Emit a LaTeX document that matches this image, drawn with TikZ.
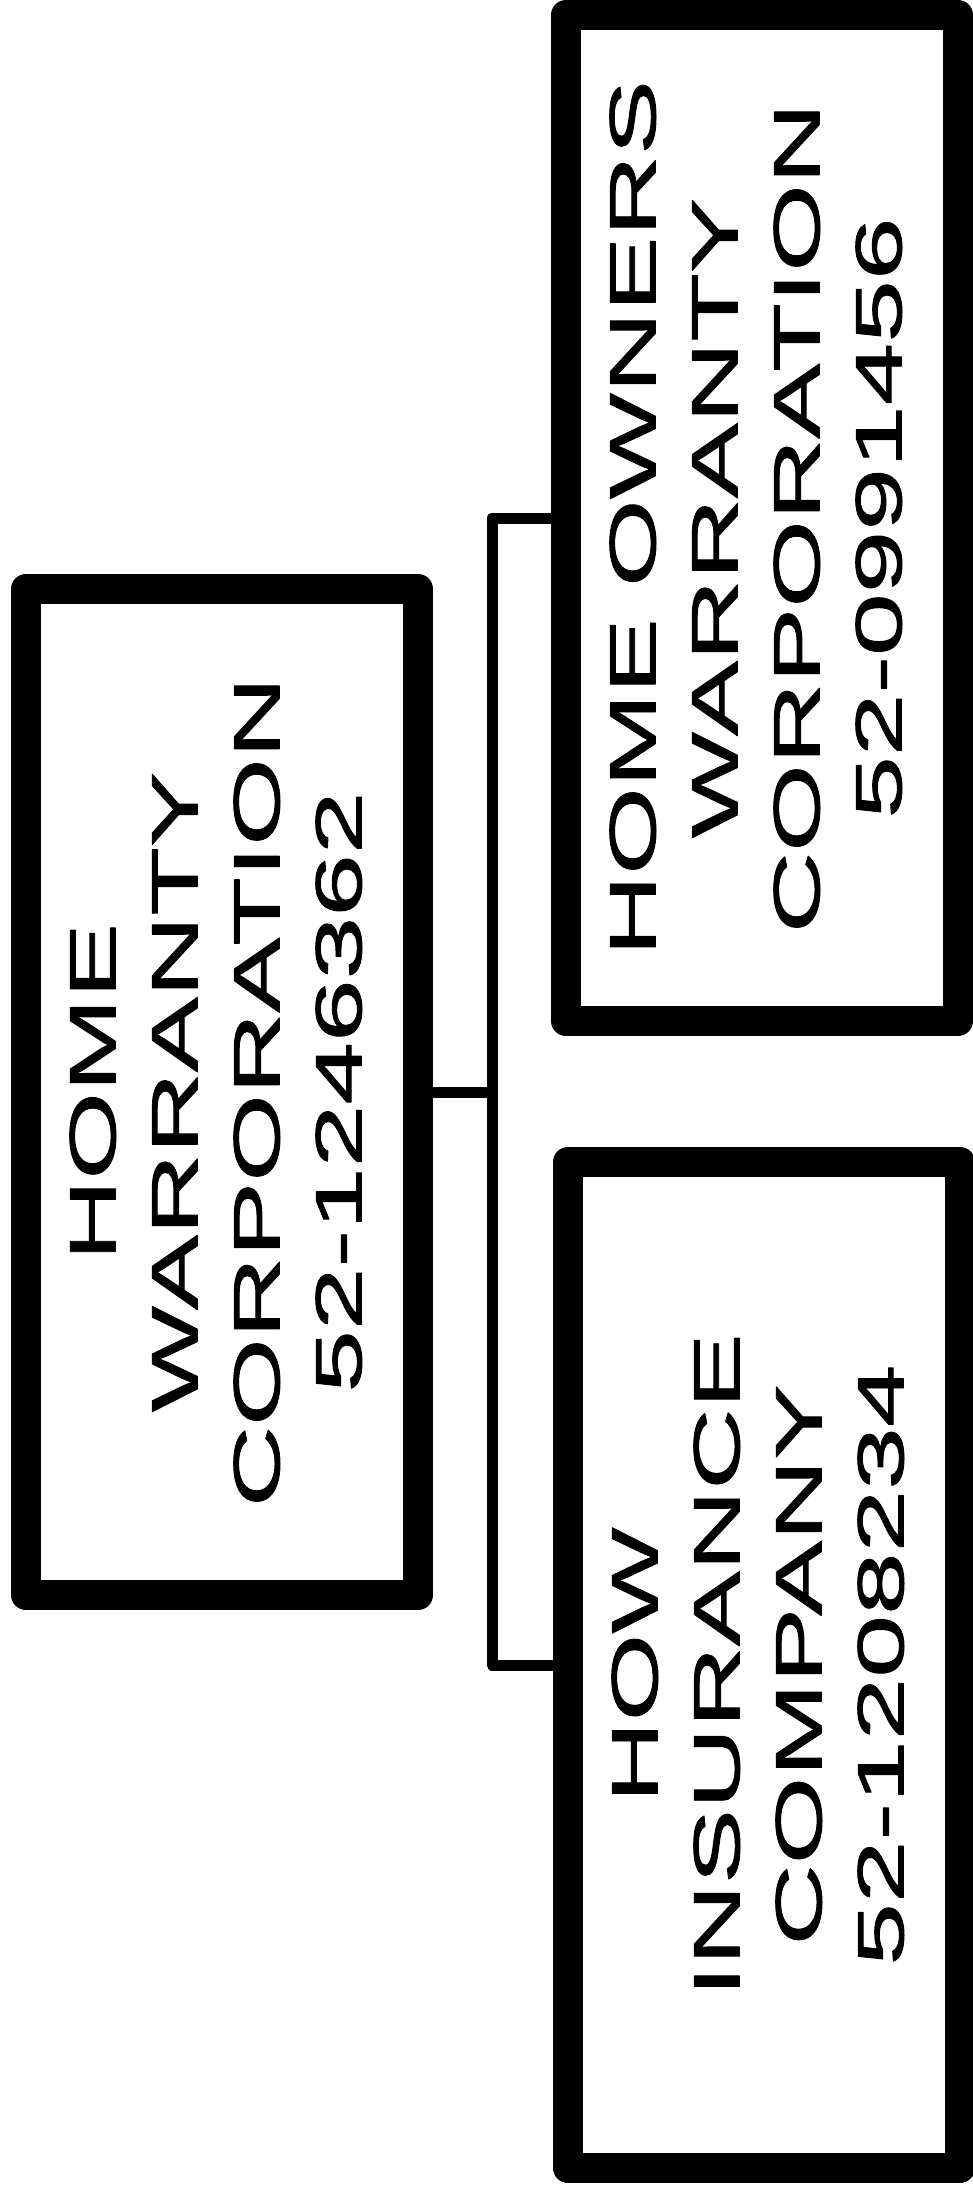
\documentclass[tikz,border=0pt]{standalone}
\usepackage{fontspec}
\usepackage{graphicx}
\setmainfont{Liberation Sans}
\newfontfamily\orgfont[FakeStretch=1.72,FakeBold=1.4]{Liberation Sans}
\usetikzlibrary{positioning}
\newcommand{\entity}[1]{\rotatebox{90}{\begin{tabular}{@{}c@{}}#1\end{tabular}}}

\begin{document}
\begin{tikzpicture}[
  x=0.5pt, y=-0.5pt,
  unit/.style={draw, line width=15pt, line join=round, minimum width=196pt,
    minimum height=503pt, inner sep=0pt,
    font=\orgfont\fontsize{32.75}{41}\selectfont},
  link/.style={draw, line width=5.5pt, line join=round}
]
\useasboundingbox (0,0) rectangle (973,2188);
\node[unit] (hwc) at (222,1092) {\entity{HOME\\WARRANTY\\CORPORATION\\52-1246362}};
\node[unit] (howc) at (762,518) {\entity{HOME OWNERS\\WARRANTY\\CORPORATION\\52-0991456}};
\node[unit] (hic) at (764,1665) {\entity{HOW\\INSURANCE\\COMPANY\\52-1208234}};
\coordinate (spine) at (492,1092);
\draw[link] (hwc.east) -- (spine);
\draw[link] (howc.west) -| (spine) |- (hic.west);
\end{tikzpicture}
\end{document}
